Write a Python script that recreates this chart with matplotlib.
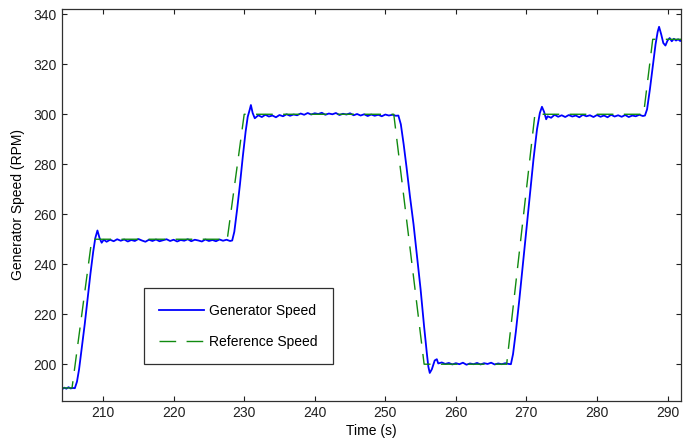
import matplotlib
matplotlib.use('Agg')
import matplotlib.pyplot as plt

plt.rcParams['font.family'] = ['Liberation Sans', 'DejaVu Sans']

###############################################
# reference speed (green dashed), breakpoints
ref_time = [204.2, 205.6, 208.4, 227.6, 230.0, 251.2, 255.5, 267.2, 271.2, 286.6, 287.9, 292.0]
ref_speed = [190.5, 190.5, 250.0, 250.0, 300.0, 300.0, 200.0, 200.0, 300.0, 300.0, 330.0, 330.0]

# measured generator speed (blue), read segment by segment
gen_t_start = [204.2, 204.5, 204.8, 205.1, 205.4, 205.7, 206.0]
gen_v_start = [190.0, 190.6, 190.2, 190.8, 190.3, 190.5, 190.4]

gen_t_up1 = [206.3, 206.6, 207.0, 207.4, 207.8, 208.2, 208.6, 208.9, 209.2, 209.5, 209.8, 210.1]
gen_v_up1 = [193.0, 198.0, 207.0, 216.0, 226.0, 236.0, 245.0, 250.5, 253.5, 250.5, 248.6, 249.8]

gen_t_250 = [210.5, 211.0, 211.5, 212.0, 212.5, 213.0, 213.5, 214.0, 214.5, 215.0, 215.5, 216.0,
             216.5, 217.0, 217.5, 218.0, 218.5, 219.0, 219.5, 220.0, 220.5, 221.0, 221.5, 222.0,
             222.5, 223.0, 223.5, 224.0, 224.5, 225.0, 225.5, 226.0, 226.5, 227.0, 227.5, 228.0]
gen_v_250 = [249.0, 249.8, 249.2, 250.0, 249.4, 249.9, 249.1, 249.7, 249.3, 250.1, 249.5, 249.0,
             249.8, 249.3, 249.9, 249.2, 249.6, 250.0, 249.3, 249.8, 249.1, 249.7, 249.4, 250.0,
             249.2, 249.8, 249.5, 249.1, 249.9, 249.3, 249.7, 249.2, 249.9, 249.4, 249.8, 249.3]

gen_t_up2 = [228.3, 228.6, 229.0, 229.4, 229.8, 230.2, 230.5, 230.8, 230.95, 231.2]
gen_v_up2 = [249.5, 253.0, 262.0, 272.0, 283.0, 293.0, 299.0, 302.0, 303.7, 300.5]

gen_t_300a = [231.5, 232.0, 232.5, 233.0, 233.5, 234.0, 234.5, 235.0, 235.5, 236.0, 236.5, 237.0,
              237.5, 238.0, 238.5, 239.0, 239.5, 240.0, 240.5, 241.0, 241.5, 242.0, 242.5, 243.0,
              243.5, 244.0, 244.5, 245.0, 245.5, 246.0, 246.5, 247.0, 247.5, 248.0, 248.5, 249.0,
              249.5, 250.0, 250.5, 251.0, 251.5]
gen_v_300a = [298.4, 299.6, 298.9, 299.8, 299.1, 299.5, 298.8, 299.7, 299.2, 300.0, 299.4, 299.9,
              299.6, 300.3, 299.8, 300.5, 299.9, 300.4, 300.1, 300.6, 299.8, 300.3, 300.0, 300.5,
              299.7, 300.2, 299.9, 300.4, 299.6, 300.1, 299.5, 300.0, 299.3, 299.9, 299.4, 299.8,
              299.2, 299.9, 299.5, 299.8, 299.4]

gen_t_down = [251.85, 252.2, 252.6, 253.0, 253.5, 254.0, 254.5, 255.0, 255.5, 255.9, 256.1,
              256.3, 256.6, 257.0, 257.3]
gen_v_down = [299.5, 296.0, 288.0, 279.0, 267.0, 256.0, 243.0, 230.0, 215.0, 204.0, 199.0,
              196.5, 198.0, 201.5, 202.0]

gen_t_200 = [257.5, 258.0, 258.5, 259.0, 259.5, 260.0, 260.5, 261.0, 261.5, 262.0, 262.5,
             263.0, 263.5, 264.0, 264.5, 265.0, 265.5, 266.0, 266.5, 267.0, 267.5]
gen_v_200 = [200.3, 200.7, 200.1, 200.5, 199.9, 200.4, 200.0, 200.6, 199.8, 200.3, 200.0,
             200.5, 199.9, 200.4, 200.1, 200.6, 199.9, 200.3, 200.0, 200.4, 200.1]

gen_t_up3 = [267.8, 268.1, 268.5, 269.0, 269.5, 270.0, 270.5, 271.0, 271.5, 271.9, 272.2, 272.5, 272.8]
gen_v_up3 = [200.0, 204.0, 213.0, 226.0, 240.0, 254.0, 268.0, 282.0, 294.0, 300.5, 303.0, 301.0, 298.0]

gen_t_300b = [273.0, 273.5, 274.0, 274.5, 275.0, 275.5, 276.0, 276.5, 277.0, 277.5, 278.0, 278.5,
              279.0, 279.5, 280.0, 280.5, 281.0, 281.5, 282.0, 282.5, 283.0, 283.5, 284.0, 284.5,
              285.0, 285.5, 286.0, 286.5]
gen_v_300b = [299.2, 298.6, 299.8, 299.0, 299.6, 298.9, 299.7, 299.1, 299.5, 298.8, 299.8, 299.2,
              299.6, 298.9, 299.7, 299.0, 299.5, 298.8, 299.8, 299.1, 299.6, 299.0, 299.7, 298.9,
              299.5, 299.2, 299.8, 299.3]

gen_t_up4 = [286.8, 287.1, 287.5, 287.9, 288.3, 288.6, 288.8, 289.1, 289.4, 289.7, 290.0,
             290.3, 290.6, 290.9, 291.2, 291.5, 291.8, 292.0]
gen_v_up4 = [299.5, 302.0, 310.0, 319.0, 328.0, 333.0, 335.0, 332.0, 328.5, 327.5, 329.5,
             330.5, 329.2, 330.2, 329.5, 330.0, 329.3, 329.8]

gen_time = (gen_t_start + gen_t_up1 + gen_t_250 + gen_t_up2 + gen_t_300a + gen_t_down
            + gen_t_200 + gen_t_up3 + gen_t_300b + gen_t_up4)
gen_speed = (gen_v_start + gen_v_up1 + gen_v_250 + gen_v_up2 + gen_v_300a + gen_v_down
             + gen_v_200 + gen_v_up3 + gen_v_300b + gen_v_up4)

x_ticks = [210, 220, 230, 240, 250, 260, 270, 280, 290]
y_ticks = [200, 220, 240, 260, 280, 300, 320, 340]

###############################################

fig = plt.figure(figsize=(6.83, 4.43), dpi=100)
ax = fig.add_axes([0.091, 0.0955, 0.906, 0.8835])

ax.plot(gen_time, gen_speed, color='#0000ff', lw=1.3, label='Generator Speed')
ax.plot(ref_time, ref_speed, color='#108a10', lw=1.0, dashes=(12, 7.5),
        label='Reference Speed')

ax.set_xlim(204.2, 291.9)
ax.set_ylim(185.4, 342)
ax.set_xticks(x_ticks)
ax.set_yticks(y_ticks)

ax.tick_params(direction='in', length=3.8, width=0.8, top=True, right=True,
               labelsize=10, colors='#202020', pad=4)
for s in ax.spines.values():
  s.set_color('#303030')
  s.set_linewidth(0.9)

ax.set_xlabel('Time (s)', fontsize=10, labelpad=3)
ax.set_ylabel('Generator Speed (RPM)', fontsize=10, labelpad=6)

leg = ax.legend(loc='lower left', bbox_to_anchor=(0.1325, 0.093), fontsize=10,
                handlelength=3.2, handletextpad=0.4, labelspacing=1.25,
                borderpad=1.1, borderaxespad=0, fancybox=False, framealpha=1)
leg.get_frame().set_edgecolor('#303030')
leg.get_frame().set_linewidth(0.9)

plt.savefig('out.png', dpi=100)
